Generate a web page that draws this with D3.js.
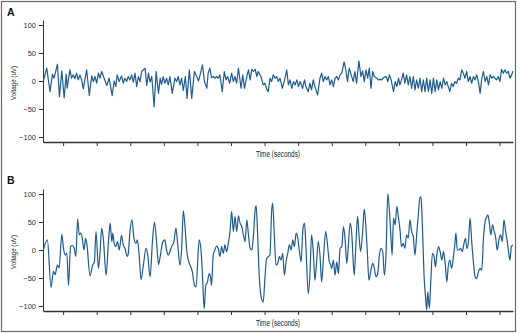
<!DOCTYPE html>
<html>
<head>
<meta charset="utf-8">
<script src="https://cdn.jsdelivr.net/npm/d3@7"></script>
<style>
  body { margin: 0; background: #fff; }
  svg { display: block; }
</style>
</head>
<body>
<div id="chart"></div>
<script>
// panel A - voltage trace (seconds, uV)
var timeA = [
  0.41, 0.51, 0.61, 0.68, 0.73, 0.83, 0.89, 0.96, 1.03, 1.09,
  1.12, 1.20, 1.25, 1.30, 1.35, 1.40, 1.45, 1.50, 1.55, 1.60,
  1.70, 1.78, 1.85, 1.90, 1.95, 2.00, 2.05, 2.10, 2.15, 2.20,
  2.30, 2.37, 2.46, 2.52, 2.57, 2.61, 2.67, 2.74, 2.79, 2.84,
  2.89, 2.94, 2.99, 3.04, 3.09, 3.14, 3.19, 3.24, 3.29, 3.34,
  3.44, 3.49, 3.54, 3.59, 3.64, 3.71, 3.77, 3.84, 3.89, 3.93,
  3.98, 4.03, 4.08, 4.13, 4.18, 4.25, 4.33, 4.38, 4.43, 4.48,
  4.53, 4.58, 4.64, 4.69, 4.76, 4.83, 4.91, 4.98, 5.03, 5.08,
  5.15, 5.21, 5.28, 5.32, 5.37, 5.42, 5.47, 5.52, 5.57, 5.62,
  5.67, 5.74, 5.80, 5.85, 5.90, 5.96, 6.02, 6.07, 6.12, 6.17,
  6.22, 6.30, 6.35, 6.40, 6.47, 6.52, 6.57, 6.62, 6.67, 6.72,
  6.77, 6.81, 6.89, 6.96, 7.01, 7.06, 7.11, 7.16, 7.21, 7.26,
  7.31, 7.36, 7.41, 7.46, 7.53, 7.61, 7.66, 7.71, 7.76, 7.81,
  7.86, 7.91, 7.96, 8.01, 8.06, 8.13, 8.19, 8.23, 8.30, 8.35,
  8.40, 8.45, 8.50, 8.58, 8.65, 8.70, 8.75, 8.80, 8.85, 8.90,
  8.95, 9.00, 9.05, 9.10, 9.15, 9.20, 9.25, 9.30, 9.37, 9.42,
  9.47, 9.52, 9.58, 9.64, 9.69, 9.74, 9.81, 9.87, 9.92, 9.97,
  10.02, 10.07, 10.12, 10.17, 10.22, 10.27, 10.34, 10.39, 10.44, 10.49,
  10.54, 10.62, 10.67, 10.72, 10.77, 10.84, 10.89, 10.94, 10.99, 11.03,
  11.08, 11.13, 11.18, 11.23, 11.28, 11.33, 11.38, 11.43, 11.48, 11.53,
  11.58, 11.63, 11.68, 11.73, 11.78, 11.83, 11.88, 11.93, 11.98, 12.03,
  12.08, 12.13, 12.18, 12.23, 12.28, 12.33, 12.38, 12.43, 12.47, 12.52,
  12.57, 12.62, 12.67, 12.72, 12.77, 12.82, 12.87, 12.92, 12.97, 13.02,
  13.07, 13.12, 13.17, 13.22, 13.27, 13.32, 13.37, 13.42, 13.47, 13.52,
  13.57, 13.62, 13.67, 13.72, 13.77, 13.82, 13.86, 13.91, 13.96, 14.01,
  14.06, 14.11, 14.16, 14.21, 14.26, 14.31, 14.36, 14.40
];
var voltA = [
  0, 23, -19, 12, 5, 30, -28, 18, -30, 12,
  -13, 20, 5, 11, 4, 14, 2, 11, 2, -14,
  20, -26, 9, -1, 8, -4, 14, 5, 17, 8,
  -8, 5, -26, 0, -10, 11, -1, 9, -4, 5,
  -1, 8, 2, 11, -2, 14, -10, 8, -1, 17,
  23, -8, 14, -2, 8, -46, 17, -22, 5, -6,
  8, -4, 5, -7, 8, -22, 5, -1, 8, -7,
  5, -17, 8, -31, 20, -31, 17, 8, 0, 11,
  29, -1, -13, 14, 23, 6, 8, 5, 8, 5,
  11, -19, 17, 2, 8, -4, 14, -1, 8, -4,
  23, -13, 11, -13, 8, 20, 2, 21, 17, 21,
  8, 17, 8, -7, -4, -14, -19, 5, -1, 11,
  5, 8, -1, 5, -13, 5, 20, -7, 2, -13,
  -1, -7, 2, -10, -1, -13, 2, -10, -19, -4,
  -16, 2, -10, -25, 5, 14, -1, 8, 2, 8,
  -7, 2, -10, 5, 8, 2, 11, 14, 34, 20,
  -1, 23, 11, -1, 17, -4, 36, 8, 18, -1,
  20, 5, 23, -13, 17, 8, 5, 2, 3, 2,
  6, 8, -1, 11, 2, -19, -1, -10, 5, -7,
  2, 14, -4, 11, -7, 8, -13, 8, -16, 2,
  -13, 5, -19, 2, -19, 5, -19, 2, -22, 5,
  -19, 2, -16, -1, -13, 5, -7, -1, -10, -19,
  -4, -10, -1, -4, 5, 2, 20, 14, 5, 17,
  -1, 8, -4, 8, 2, 11, -1, -22, 5, 17,
  -1, 8, -7, 11, 5, 8, 5, 2, 8, -1,
  21, 14, 20, 14, 17, 5, 11, 18
];

// panel B - voltage trace (seconds, uV)
var timeB = [
  0.41, 0.53, 0.64, 0.71, 0.76, 0.83, 0.88, 0.96, 1.01, 1.06,
  1.11, 1.16, 1.22, 1.27, 1.33, 1.38, 1.43, 1.48, 1.52, 1.57,
  1.62, 1.67, 1.71, 1.80, 1.88, 1.93, 1.98, 2.05, 2.10, 2.15,
  2.20, 2.28, 2.35, 2.40, 2.45, 2.48, 2.52, 2.57, 2.62, 2.67,
  2.74, 2.79, 2.84, 2.91, 2.94, 2.99, 3.05, 3.11, 3.17, 3.21,
  3.26, 3.32, 3.39, 3.47, 3.52, 3.59, 3.66, 3.72, 3.79, 3.84,
  3.89, 3.97, 4.03, 4.08, 4.13, 4.18, 4.23, 4.30, 4.36, 4.41,
  4.48, 4.53, 4.58, 4.63, 4.68, 4.73, 4.78, 4.85, 4.91, 4.96,
  5.05, 5.11, 5.15, 5.20, 5.25, 5.30, 5.35, 5.39, 5.42, 5.47,
  5.52, 5.57, 5.62, 5.67, 5.72, 5.77, 5.82, 5.87, 5.92, 5.97,
  6.02, 6.07, 6.12, 6.17, 6.22, 6.27, 6.32, 6.37, 6.42, 6.47,
  6.52, 6.57, 6.62, 6.67, 6.72, 6.75, 6.79, 6.84, 6.89, 6.96,
  7.01, 7.06, 7.11, 7.16, 7.21, 7.24, 7.29, 7.34, 7.39, 7.44,
  7.49, 7.54, 7.59, 7.64, 7.69, 7.74, 7.79, 7.84, 7.89, 7.94,
  7.99, 8.04, 8.09, 8.14, 8.19, 8.23, 8.30, 8.35, 8.40, 8.45,
  8.50, 8.55, 8.60, 8.65, 8.70, 8.75, 8.82, 8.87, 8.92, 8.97,
  9.00, 9.05, 9.10, 9.15, 9.20, 9.25, 9.30, 9.35, 9.40, 9.45,
  9.50, 9.55, 9.60, 9.64, 9.67, 9.72, 9.77, 9.82, 9.86, 9.92,
  9.97, 10.02, 10.06, 10.11, 10.16, 10.22, 10.27, 10.32, 10.37, 10.42,
  10.47, 10.52, 10.57, 10.62, 10.67, 10.72, 10.76, 10.80, 10.84, 10.89,
  10.94, 10.99, 11.03, 11.08, 11.13, 11.18, 11.23, 11.28, 11.33, 11.38,
  11.43, 11.48, 11.53, 11.58, 11.63, 11.66, 11.71, 11.75, 11.79, 11.83,
  11.86, 11.91, 11.95, 12.00, 12.05, 12.09, 12.13, 12.18, 12.23, 12.28,
  12.33, 12.38, 12.43, 12.47, 12.52, 12.57, 12.62, 12.67, 12.70, 12.74,
  12.79, 12.84, 12.89, 12.94, 12.99, 13.02, 13.07, 13.12, 13.17, 13.22,
  13.27, 13.32, 13.37, 13.42, 13.47, 13.52, 13.57, 13.62, 13.65, 13.69,
  13.74, 13.79, 13.84, 13.88, 13.93, 13.98, 14.03, 14.08, 14.13, 14.18,
  14.23, 14.28, 14.31, 14.35, 14.40
];
var voltB = [
  0, 18, -67, -38, -44, -27, -32, 28, 3, -9,
  -6, -63, 6, 8, 3, -12, 55, 27, 30, 21,
  0, 21, 9, -46, -27, -21, 33, -33, -3, 39,
  18, -45, 15, 48, 15, 30, 12, 6, 15, 0,
  26, 9, 3, -12, -6, 33, 54, 21, 12, 18,
  -6, -53, -27, 3, -9, -48, 15, 50, 9, -26,
  -12, 15, 18, 0, -9, -3, 6, 15, 39, 12,
  -27, 3, 70, 42, 0, -18, -27, -39, -63, -66,
  18, -3, -45, -105, -63, -57, -42, -48, -63, -9,
  0, 7, 3, -12, 6, -6, 9, -3, 12, 33,
  69, 33, 60, 33, 61, 48, 42, 27, 15, 54,
  27, 3, 0, 27, 72, 79, 33, -45, -81, -93,
  -51, -15, -12, -9, 69, 84, 27, -27, -24, -12,
  -18, -6, -45, -21, -6, 9, 0, 18, 6, 30,
  21, -3, -21, 36, 48, 9, -78, -45, 27, -3,
  -54, -21, 15, -9, -57, -18, 33, 12, -18, -27,
  -33, -18, -45, -21, -42, 3, 6, 42, 18, -24,
  12, 48, 27, -21, -45, 9, 60, 21, -3, 33,
  73, 39, -3, -54, -39, -24, -33, -48, -42, -9,
  3, -3, -45, -3, 101, 69, 27, -9, 57, 45,
  78, 57, 39, 6, 12, 3, 27, 21, 54, 33,
  24, -9, 27, 63, 95, 93, 27, -45, -81, -107,
  -75, -104, -57, -6, -12, -30, -9, 6, -3, -18,
  -3, -24, -57, -30, -18, -33, -15, 12, 30, 0,
  0, 3, -3, 12, 21, 3, 12, 57, 15, -21,
  -48, -51, -39, -33, -36, 21, 51, 60, 63, 51,
  27, 45, 33, 24, 0, 18, 27, 15, 54, 33,
  15, -9, -18, 6, 9
];

var voltageTicks = [-100, -50, 0, 50, 100];
var timeTicks = [1, 2, 3, 4, 5, 6, 7, 8, 9, 10, 11, 12, 13, 14];
var panelLabels = ['A', 'B'];

var width = 520, height = 333;
var left = 43, right = 513;
var lineColor = '#1f5b8e';
var sans = 'Arial, "Liberation Sans", sans-serif';

var svg = d3.select('#chart').append('svg')
  .attr('width', width)
  .attr('height', height);

svg.append('rect')
  .attr('width', width).attr('height', height)
  .attr('fill', '#fff');

svg.append('rect')
  .attr('x', 1.5).attr('y', 1.5)
  .attr('width', 514).attr('height', 330)
  .attr('fill', 'none')
  .attr('stroke', '#6b6b6b')
  .attr('stroke-width', 1.2);

var panels = [
  { label: panelLabels[0], data: d3.zip(timeA, voltA), top: 20, bottom: 142, curve: d3.curveLinear },
  { label: panelLabels[1], data: d3.zip(timeB, voltB), top: 189, bottom: 311, curve: d3.curveMonotoneX }
];

var x = d3.scaleLinear().domain([0.4, 14.4]).range([left, right]);

panels.forEach(function(p, i) {
  var y = d3.scaleLinear().domain([-109, 109]).range([p.bottom, p.top]);
  var g = svg.append('g');

  // panel letter
  g.append('text')
    .attr('x', 7)
    .attr('y', i === 0 ? 15.5 : 184)
    .attr('font-family', sans)
    .attr('font-weight', 'bold')
    .attr('font-size', 10.5)
    .attr('fill', '#111')
    .text(p.label);

  // y axis
  var yAxis = g.append('g')
    .attr('transform', 'translate(' + left + ',0)')
    .call(d3.axisLeft(y).tickValues(voltageTicks).tickSize(4).tickSizeOuter(0).tickPadding(3));
  yAxis.selectAll('text')
    .attr('font-family', sans)
    .attr('font-size', 7.5)
    .attr('fill', '#333');
  yAxis.selectAll('line, path').attr('stroke', '#333');

  // x axis, ticks only
  var xAxis = g.append('g')
    .attr('transform', 'translate(0,' + p.bottom + ')')
    .call(d3.axisBottom(x).tickValues(timeTicks).tickSize(4).tickSizeOuter(0).tickFormat(''));
  xAxis.selectAll('line, path').attr('stroke', '#333');
  xAxis.select('.domain').attr('stroke-width', 1.3);

  g.append('text')
    .attr('x', (left + right) / 2 - 22)
    .attr('y', p.bottom + 14.5)
    .attr('font-family', sans)
    .attr('font-size', 8.5)
    .attr('textLength', 44)
    .attr('lengthAdjust', 'spacingAndGlyphs')
    .attr('fill', '#222')
    .text('Time (seconds)');

  g.append('text')
    .attr('transform', 'translate(15.5,' + ((p.top + p.bottom) / 2 + 19) + ') rotate(-90)')
    .attr('font-family', sans)
    .attr('font-size', 8)
    .attr('textLength', 34)
    .attr('lengthAdjust', 'spacingAndGlyphs')
    .attr('fill', '#222')
    .text('Voltage (uV)');

  var line = d3.line()
    .x(function(d) { return x(d[0]); })
    .y(function(d) { return y(d[1]); })
    .curve(p.curve);

  g.append('path')
    .datum(p.data)
    .attr('fill', 'none')
    .attr('stroke', lineColor)
    .attr('stroke-width', 1.2)
    .attr('stroke-linejoin', 'round')
    .attr('d', line);
});
</script>
</body>
</html>
